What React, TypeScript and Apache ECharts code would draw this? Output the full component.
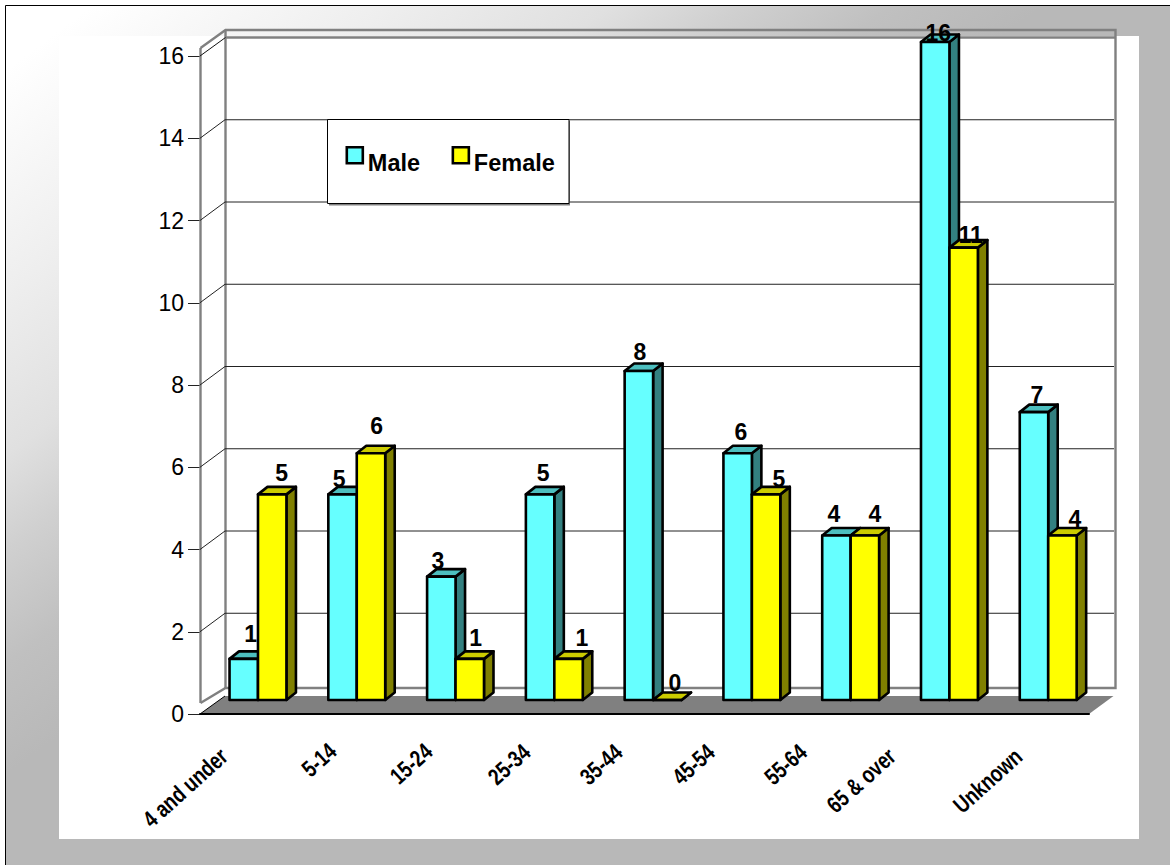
import React, { useEffect, useRef } from "react";
import * as echarts from "echarts";

const categories = ["4 and under", "5-14", "15-24", "25-34", "35-44", "45-54", "55-64", "65 & over", "Unknown"];
const maleValues = [1, 5, 3, 5, 8, 6, 4, 16, 7];
const femaleValues = [5, 6, 1, 1, 0, 5, 4, 11, 4];
const yTicks = [2, 4, 6, 8, 10, 12, 14];
// label nudges relative to the top-centre of each bar's front face
const maleLabelNudge = [[7, -17], [-3.3, -7], [-3.4, -7.7], [3, -13.5], [1, -11], [3.3, -13.4], [-2.5, -14], [3, -1.4], [3, -9]];
const femaleLabelNudge = [[9.4, -13.5], [5.6, -19.4], [6, -13], [13.4, -13], [7.6, -9.3], [12.8, -7.8], [10, -14], [7, -5], [12.5, -9]];
// where the end of each rotated category label sits, relative to its band centre on the axis
const categoryLabelNudge = [[-25.5, 38.6], [-15.5, 33.4], [-18.5, 33.8], [-19.2, 34.4], [-26, 34.4], [-32.4, 34.4], [-39.1, 34.4], [-49, 38.4], [-21.2, 38.8]];

const FONT = '"Liberation Sans", Arial, sans-serif';
const WALL = { dx: 25, dy: -18.5 };
const BAR = { dx: 8.6, dy: -14, depthX: 9.5, depthY: -7.5, widthRatio: 0.288 };
const GREY = "#808080";
const LEGEND_ICON = "path://M0,0H16V16H0Z M0,32L0,32Z";

const palette = {
  Male: { front: "#66FFFF", top: "#4DBFBF", side: "#338080" },
  Female: { front: "#FFFF00", top: "#CCCC00", side: "#808000" },
};

function barSeries(name: "Male" | "Female", values: number[], nudges: number[][], slot: number) {
  const c = palette[name];
  return {
    type: "custom",
    name,
    z: 4,
    silent: true,
    clip: false,
    itemStyle: { color: c.front },
    encode: { x: 0, y: 1 },
    data: values.map((v, i) => [i, v]),
    renderItem: (_p: any, api: any) => {
      const i = api.value(0);
      const v = api.value(1);
      const base = api.coord([i, 0]);
      const top = api.coord([i, v]);
      const w = api.size([1, 0])[0] * BAR.widthRatio;
      const x0 = base[0] + BAR.dx + (slot === 0 ? -w : 0);
      const x1 = x0 + w;
      const yB = base[1] + BAR.dy;
      const yT = top[1] + BAR.dy;
      const line = { stroke: "#000", lineWidth: 2.6, lineJoin: "round" };
      const n = nudges[i];
      return {
        type: "group",
        children: [
          {
            type: "polygon",
            shape: { points: [[x1, yB], [x1 + BAR.depthX, yB + BAR.depthY], [x1 + BAR.depthX, yT + BAR.depthY], [x1, yT]] },
            style: { fill: c.side, ...line },
          },
          {
            type: "polygon",
            shape: { points: [[x0, yT], [x0 + BAR.depthX, yT + BAR.depthY], [x1 + BAR.depthX, yT + BAR.depthY], [x1, yT]] },
            style: { fill: c.top, ...line },
          },
          {
            type: "rect",
            shape: { x: x0, y: yT, width: w, height: yB - yT },
            style: { fill: c.front, ...line },
          },
          {
            type: "text",
            z2: 100,
            style: {
              text: String(v),
              x: (x0 + x1) / 2 + n[0],
              y: yT + n[1] - 8,
              fill: "#000",
              font: `bold 23px ${FONT}`,
              align: "center",
              verticalAlign: "middle",
            },
          },
        ],
      };
    },
  };
}

export default function App() {
  const ref = useRef<HTMLDivElement>(null);
  useEffect(() => {
    const chart = echarts.init(ref.current!, undefined, { renderer: "svg" });
    chart.setOption({
      animation: false,
      backgroundColor: "#fff",
      grid: { left: 200, right: 81, top: 56, bottom: 151 },
      tooltip: { show: false },
      legend: {
        data: ["Male", "Female"],
        left: 345.5,
        top: 146,
        padding: 0,
        z: 7,
        icon: LEGEND_ICON,
        itemWidth: 16,
        itemHeight: 32,
        itemGap: 31.5,
        selectedMode: false,
        itemStyle: { borderColor: "#000", borderWidth: 2.6 },
        textStyle: { fontFamily: FONT, fontWeight: "bold", fontSize: 23.5, color: "#000" },
      },
      xAxis: {
        type: "category",
        data: categories,
        z: 5,
        axisLine: { lineStyle: { color: "#000", width: 2 } },
        axisTick: { length: 11, alignWithLabel: false, lineStyle: { color: "#222", width: 1 } },
        axisLabel: { show: false },
        splitLine: { show: false },
      },
      yAxis: {
        type: "value",
        min: 0,
        max: 16,
        interval: 2,
        axisLine: { show: false },
        axisTick: { show: true, length: 12, lineStyle: { color: "#222", width: 1 } },
        axisLabel: { margin: 16, color: "#000", fontFamily: FONT, fontSize: 23 },
        splitLine: { show: false },
      },
      graphic: {
        elements: [
          {
            type: "rect",
            z: -10,
            shape: { x: 5.5, y: 5.5, width: 1170, height: 865 },
            style: {
              stroke: "#000",
              lineWidth: 1,
              fill: new echarts.graphic.LinearGradient(0, 0, 373, 503, [
                { offset: 0.095, color: "#FFFFFF" },
                { offset: 0.38, color: "#EEEEEE" },
                { offset: 0.59, color: "#E0E0E0" },
                { offset: 0.71, color: "#D0D0D0" },
                { offset: 0.857, color: "#C0C0C0" },
                { offset: 1, color: "#B8B8B8" },
              ], true),
            },
          },
          { type: "rect", z: -9, shape: { x: 59, y: 36, width: 1080, height: 803 }, style: { fill: "#fff" } },
          { type: "rect", z: 6, shape: { x: 329, y: 121, width: 241, height: 84.5 }, style: { fill: GREY } },
          { type: "rect", z: 6, shape: { x: 327.5, y: 119.5, width: 241.5, height: 84 }, style: { fill: "#fff", stroke: "#000", lineWidth: 1 } },
        ],
      },
      series: [
        {
          type: "custom",
          name: "frame",
          z: 1,
          silent: true,
          encode: { x: 0, y: 1 },
          data: [[0, 0]],
          renderItem: (_p: any, api: any) => {
            const band = api.size([1, 0])[0];
            const o = api.coord([0, 0]);
            const t = api.coord([0, 16]);
            const left = o[0] - band / 2;
            const right = api.coord([8, 0])[0] + band / 2;
            const stroke = { stroke: GREY, lineWidth: 2.4, fill: "none" };
            const backL = left + WALL.dx + 0.5;
            const backR = right + WALL.dx + 1.5;
            const backTop = t[1] + WALL.dy;
            const wallTop = backTop - 7.5;
            const wallBottom = o[1] + WALL.dy - 7.5;
            return {
              type: "group",
              children: [
                { type: "polyline", shape: { points: [[left + 0.5, t[1] - 8], [backL, wallTop], [backR, wallTop], [backR, wallBottom], [backL, wallBottom], [left + 0.5, wallBottom + 15]] }, style: stroke },
                { type: "line", shape: { x1: backL, y1: wallTop, x2: backL, y2: wallBottom }, style: stroke },
                { type: "line", shape: { x1: left + 0.5, y1: t[1] - 8, x2: left + 0.5, y2: wallBottom + 15 }, style: stroke },
                { type: "line", shape: { x1: backL, y1: backTop, x2: backR, y2: backTop }, style: stroke },
                { type: "line", shape: { x1: left, y1: t[1], x2: backL, y2: backTop }, style: { stroke: "#111", lineWidth: 1 } },
                {
                  type: "polygon",
                  shape: { points: [[left, o[1]], [right, o[1]], [right + WALL.dx - 0.5, o[1] + WALL.dy + 0.5], [left + WALL.dx, o[1] + WALL.dy + 0.5]] },
                  style: { fill: GREY },
                },
                { type: "line", shape: { x1: left, y1: o[1], x2: left + WALL.dx, y2: o[1] + WALL.dy + 0.5 }, style: { stroke: "#000", lineWidth: 1 } },
              ],
            };
          },
        },
        {
          type: "custom",
          name: "gridlines",
          z: 1,
          silent: true,
          encode: { x: 0, y: 1 },
          data: yTicks.map((t) => [0, t]),
          renderItem: (_p: any, api: any) => {
            const band = api.size([1, 0])[0];
            const p = api.coord([0, api.value(1)]);
            const left = p[0] - band / 2;
            const right = api.coord([8, 0])[0] + band / 2;
            return {
              type: "polyline",
              shape: { points: [[left, p[1]], [left + WALL.dx, p[1] + WALL.dy], [right + WALL.dx, p[1] + WALL.dy]] },
              style: { stroke: "#222", lineWidth: 1, fill: "none" },
            };
          },
        },
        {
          type: "custom",
          name: "category labels",
          z: 5,
          silent: true,
          clip: false,
          encode: { x: 0, y: 1 },
          data: categories.map((_c, i) => [i, 0]),
          renderItem: (_p: any, api: any) => {
            const i = api.value(0);
            const p = api.coord([i, 0]);
            const n = categoryLabelNudge[i];
            return {
              type: "text",
              x: p[0] + n[0],
              y: p[1] + n[1],
              rotation: (42 * Math.PI) / 180,
              scaleX: 0.88,
              scaleY: 1.12,
              style: {
                text: categories[i],
                x: 0,
                y: 0,
                fill: "#000",
                font: `bold 21px ${FONT}`,
                align: "right",
                verticalAlign: "middle",
              },
            };
          },
        },
        barSeries("Male", maleValues, maleLabelNudge, 0),
        barSeries("Female", femaleValues, femaleLabelNudge, 1),
      ],
    });
    return () => chart.dispose();
  }, []);
  return <div ref={ref} style={{ position: "absolute", left: 0, top: 0, width: 1170, height: 865 }} />;
}
